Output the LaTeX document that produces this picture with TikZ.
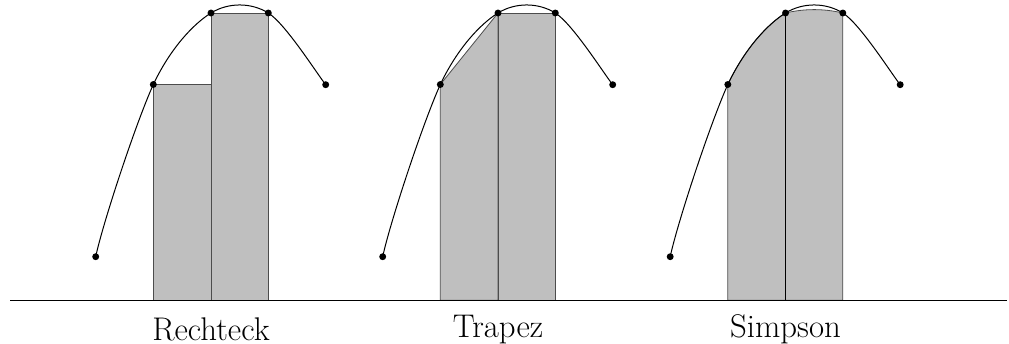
\documentclass[tikz,border=0pt]{standalone}
\usepackage{tikz}
\begin{document}
\begin{tikzpicture}[x=0.75pt,y=-0.75pt,
  kurve/.style={line width=0.75pt},
  flaeche/.style={fill=black!25, draw=black!70, line width=0.6pt},
  trenn/.style={draw=black, line width=0.6pt},
  punkt/.style={fill=black},
  achse/.style={line width=1.05pt},
  beschr/.style={font=\fontsize{24.6}{29}\selectfont, inner sep=0pt}]
\useasboundingbox (0,0) rectangle (1009,343);
\foreach \i/\dx in {0/0,1/287,2/574.5}{
  \coordinate (p\i-0) at (\dx+95.7,256.7);
  \coordinate (p\i-1) at (\dx+153.3,84.5);
  \coordinate (p\i-2) at (\dx+211,13);
  \coordinate (p\i-3) at (\dx+268.3,13);
  \coordinate (p\i-4) at (\dx+325.7,84.7);
  \coordinate (b\i-1) at (\dx+153.3,300.3);
  \coordinate (b\i-2) at (\dx+211,300.3);
  \coordinate (b\i-3) at (\dx+268.3,300.3);
}
% Rechteck
\draw[flaeche] (b0-1) rectangle (b0-2 |- p0-1);
\draw[flaeche] (b0-2) rectangle (p0-3);
% Trapez
\draw[flaeche] (b1-1) -- (p1-1) -- (p1-2) -- (b1-2) -- cycle;
\draw[flaeche] (b1-2) rectangle (p1-3);
% Simpson
\draw[flaeche] (b2-1) -- (p2-1) .. controls +(17.3,-36.6) and +(-17.25,10.7) .. (p2-2)
   .. controls +(19,-4.5) and +(-19,-4.5) .. (p2-3) -- (b2-3) -- cycle;
\draw[trenn] (b2-2) -- (p2-2);
% axis
\coordinate (ax1) at (10,300.3);
\coordinate (ax2) at (1007,300.3);
\draw[achse] (ax1) -- (ax2);
% curves and points
\foreach \i in {0,1,2}{
  \draw[kurve] (p\i-0) .. controls +(7,-33) and +(-18,40) .. (p\i-1)
     .. controls +(17.3,-36.6) and +(-17.25,10.7) .. (p\i-2)
     .. controls +(17.25,-10.7) and +(-17.25,-10.75) .. (p\i-3)
     .. controls +(17.2,10.75) and +(-8.6,-10.8) .. (p\i-4);
  \foreach \j in {0,...,4}{
    \fill[punkt] (p\i-\j) circle[radius=2.6pt];
  }
}
% labels
\node[beschr] (l0) at (211,329.3) {Rechteck};
\node[beschr] (l1) at (498,329.3) {Trapez};
\node[beschr] (l2) at (785.5,329.3) {Simpson};
\end{tikzpicture}
\end{document}
